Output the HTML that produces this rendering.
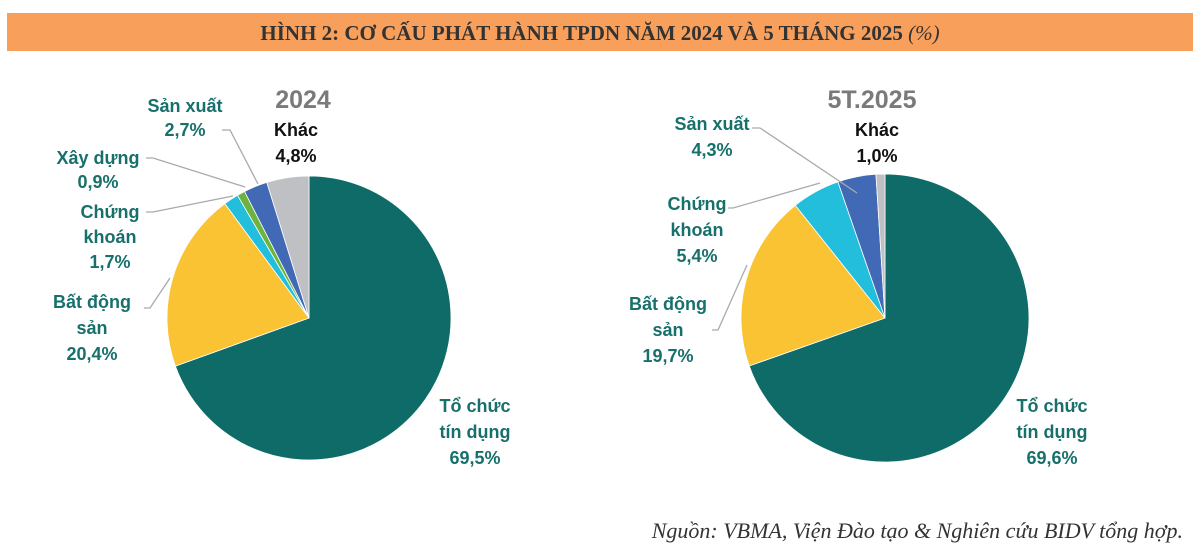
<!DOCTYPE html>
<html><head><meta charset="utf-8"><style>
body{margin:0;background:#fff;width:1200px;height:554px;overflow:hidden}
svg text{font-family:"Liberation Sans Narrow","Liberation Sans",sans-serif;font-weight:bold}
</style></head><body>
<svg width="1200" height="554">
<rect x="7" y="13" width="1186" height="38" fill="#F89F5B"/>
<text x="600" y="40" text-anchor="middle" font-size="21" fill="#333" style="font-family:'Liberation Serif',serif">HÌNH 2: CƠ CẤU PHÁT HÀNH TPDN NĂM 2024 VÀ 5 THÁNG 2025 <tspan font-style="italic" font-weight="normal">(%)</tspan></text>
<g id="pies"></g>
<g stroke="#aaa" stroke-width="1.3" fill="none">
<polyline points="222,130 230,130 258,184"/>
<polyline points="146,158 153,158 245,187"/>
<polyline points="146,212 153,212 233,196"/>
<polyline points="144,308 150,308 170,278"/>
<polyline points="752,128 760,128 857,193"/>
<polyline points="728,208 733,208 820,183"/>
<polyline points="712,330 718,330 747,265"/>
</g>
<g font-size="18" fill="#17706B" text-anchor="middle">
<text x="185" y="112">Sản xuất</text>
<text x="185" y="136">2,7%</text>
<text x="98" y="164">Xây dựng</text>
<text x="98" y="188">0,9%</text>
<text x="110" y="218">Chứng</text>
<text x="110" y="243">khoán</text>
<text x="110" y="268">1,7%</text>
<text x="92" y="308">Bất động</text>
<text x="92" y="334">sản</text>
<text x="92" y="360">20,4%</text>
<text x="475" y="412">Tổ chức</text>
<text x="475" y="438">tín dụng</text>
<text x="475" y="464">69,5%</text>
<text x="712" y="130">Sản xuất</text>
<text x="712" y="156">4,3%</text>
<text x="697" y="210">Chứng</text>
<text x="697" y="236">khoán</text>
<text x="697" y="262">5,4%</text>
<text x="668" y="310">Bất động</text>
<text x="668" y="336">sản</text>
<text x="668" y="362">19,7%</text>
<text x="1052" y="412">Tổ chức</text>
<text x="1052" y="438">tín dụng</text>
<text x="1052" y="464">69,6%</text>
</g>
<g font-size="18" fill="#111" text-anchor="middle">
<text x="296" y="136">Khác</text>
<text x="296" y="162">4,8%</text>
<text x="877" y="136">Khác</text>
<text x="877" y="162">1,0%</text>
</g>
<text x="303" y="108" text-anchor="middle" font-size="25" fill="#7a7a7a">2024</text>
<text x="872" y="108" text-anchor="middle" font-size="25" fill="#7a7a7a">5T.2025</text>
<text x="1183" y="538" text-anchor="end" font-size="22" fill="#333" font-style="italic" style="font-family:'Liberation Serif',serif;font-weight:normal">Nguồn: VBMA, Viện Đào tạo &amp; Nghiên cứu BIDV tổng hợp.</text>
</svg>
<script>
const categories=["Tổ chức tín dụng","Bất động sản","Chứng khoán","Xây dựng","Sản xuất","Khác"];
const values2024=[69.5,20.4,1.7,0.9,2.7,4.8];
const values2025=[69.6,19.7,5.4,0,4.3,1.0];
const colors=["#0E6B67","#FAC334","#22BEDC","#6DB43F","#4169B5","#BFC0C4"];
const g=document.getElementById('pies');
function pie(vals,cx,cy,r,name){
  const tot=vals.reduce((a,b)=>a+b,0);let a=0;
  vals.forEach((v,i)=>{
    if(v<=0)return;
    const a0=a/tot*2*Math.PI,a1=(a+v)/tot*2*Math.PI;a+=v;
    const x0=cx+r*Math.sin(a0),y0=cy-r*Math.cos(a0),x1=cx+r*Math.sin(a1),y1=cy-r*Math.cos(a1);
    const p=document.createElementNS('http://www.w3.org/2000/svg','path');
    p.setAttribute('d',`M${cx},${cy}L${x0},${y0}A${r},${r} 0 ${a1-a0>Math.PI?1:0} 1 ${x1},${y1}Z`);
    p.setAttribute('fill',colors[i]);
    p.setAttribute('stroke','#fff');p.setAttribute('stroke-width','0.8');
    
    
    g.appendChild(p);
  });
}
pie(values2024,309,318,142,'2024');
pie(values2025,885,318,144,'5t2025');
</script>
</body></html>
